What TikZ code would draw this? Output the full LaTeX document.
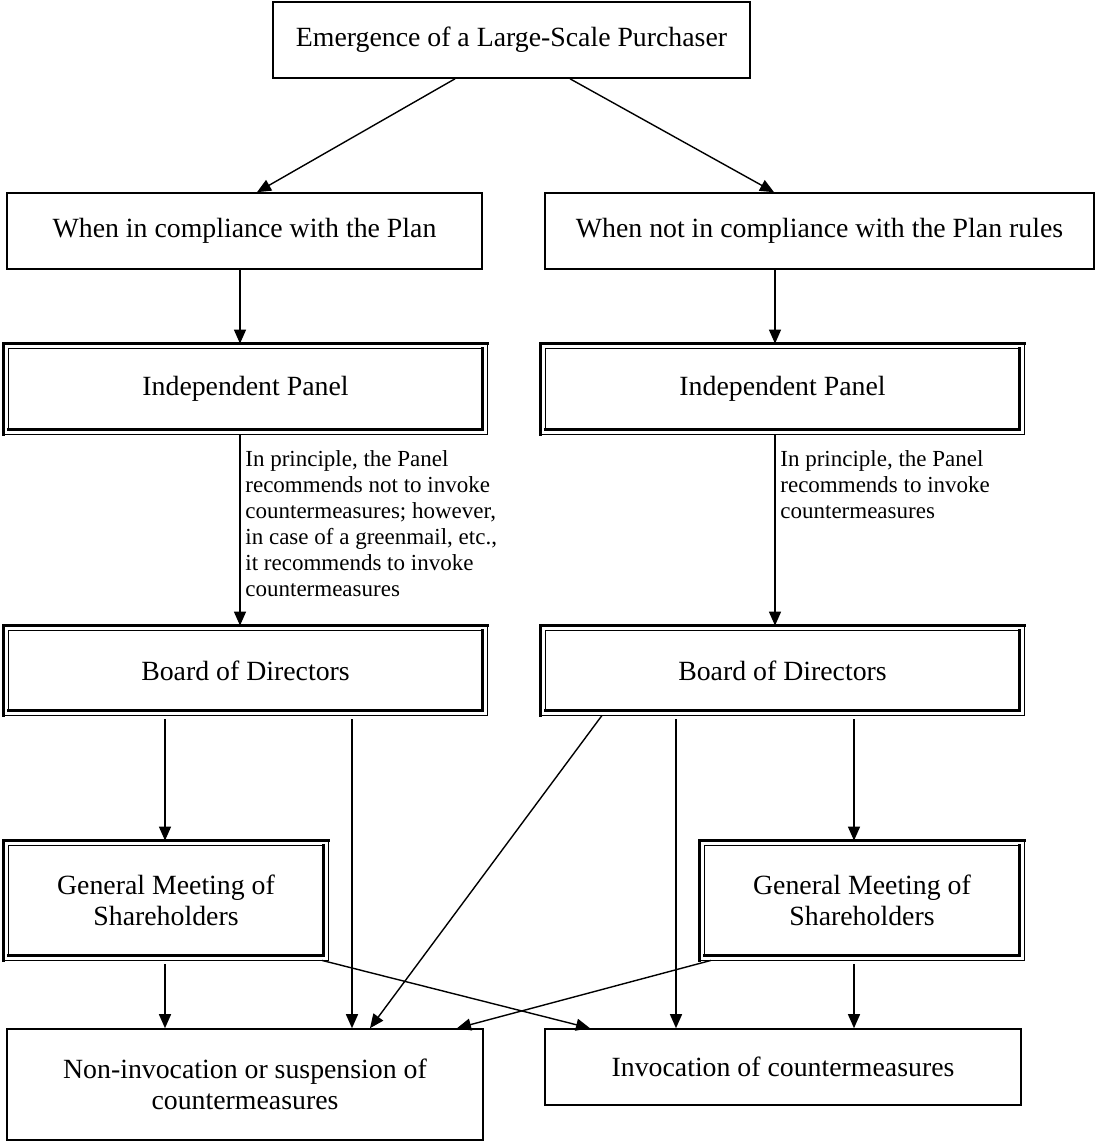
\documentclass[tikz,border=0pt]{standalone}
\usepackage{fontspec}
\setmainfont{Liberation Serif}
\usetikzlibrary{arrows.meta}

\tikzset{
  box/.style={draw, line width=0.8pt, align=center, inner sep=0pt,
    font=\fontsize{13.9}{15.5}\selectfont},
  panel/.style={align=center, inner sep=0pt, font=\fontsize{13.9}{15.5}\selectfont},
  note/.style={align=left, inner sep=0pt, anchor=north west,
    font=\fontsize{11.5}{13}\selectfont},
  arr/.style={-{Triangle[length=7pt,width=6pt]}, line width=0.7pt},
  frame/.style={line width=0.6pt},
  heavy/.style={line width=1.6pt, line cap=rect}
}

\begin{document}
\begin{tikzpicture}[x=0.5pt, y=-0.5pt]
\useasboundingbox (0,0) rectangle (1097,1145);

% top
\node[box, minimum width=238.5pt, minimum height=38pt] (start) at (511.5,40)
    {Emergence of a Large-Scale Purchaser};

% the two cases
\node[box, minimum width=237.5pt, minimum height=38pt] (compL) at (244.5,231)
    {When in compliance with the Plan};
\node[box, minimum width=274.5pt, minimum height=38pt] (compR) at (819.5,231)
    {When not in compliance with the Plan rules};

% framed boxes
\node[panel, minimum width=241.5pt, minimum height=45pt] (panelL) at (245.5,389) {Independent Panel};
\node[panel, minimum width=241.5pt, minimum height=45pt] (panelR) at (782.5,389) {Independent Panel};
\node[panel, minimum width=241.5pt, minimum height=44.5pt] (boardL) at (245.5,670.5) {Board of Directors};
\node[panel, minimum width=241.5pt, minimum height=44.5pt] (boardR) at (782.5,670.5) {Board of Directors};
\node[panel, minimum width=162pt, minimum height=59.5pt] (meetL) at (166,900.5)
    {General Meeting of\\Shareholders};
\node[panel, minimum width=162pt, minimum height=59.5pt] (meetR) at (862,900.5)
    {General Meeting of\\Shareholders};

\foreach \n in {panelL,panelR,boardL,boardR,meetL,meetR}{
  \draw[heavy] (\n.south west) -- (\n.north west) -- (\n.north east);
  \draw[frame] (\n.north east) -- (\n.south east) -- (\n.south west);
  \draw[frame] ([shift={(2.5pt,2.5pt)}]\n.south west) -- ([shift={(2.5pt,-2.5pt)}]\n.north west)
      -- ([shift={(-2.5pt,-2.5pt)}]\n.north east);
  \draw[heavy] ([shift={(-2.5pt,-2.5pt)}]\n.north east) -- ([shift={(-2.5pt,2.5pt)}]\n.south east)
      -- ([shift={(2.5pt,2.5pt)}]\n.south west);
}

% outcomes
\node[box, minimum width=238pt, minimum height=55.5pt] (stopL) at (245,1084.5)
    {Non-invocation or suspension of\\countermeasures};
\node[box, minimum width=238pt, minimum height=38pt] (goR) at (783,1067)
    {Invocation of countermeasures};

% recommendations
\node[note] (lblL) at (245,450) {In principle, the Panel\\recommends not to invoke\\countermeasures; however,\\in case of a greenmail, etc.,\\it recommends to invoke\\countermeasures};
\node[note] (lblR) at (780,450) {In principle, the Panel\\recommends to invoke\\countermeasures};

% arrows
\draw[arr] (start.south -| 455,0) -- (compL.north -| 257,0);
\draw[arr] (start.south -| 570,0) -- (compR.north -| 774,0);
\draw[arr] (compL.south -| 240,0) -- (panelL.north -| 240,0);
\draw[arr] (compR.south -| 775,0) -- (panelR.north -| 775,0);
\draw[arr] (panelL.south -| 240,0) -- (boardL.north -| 240,0);
\draw[arr] (panelR.south -| 775,0) -- (boardR.north -| 775,0);
\draw[arr, shorten <=2pt] (boardL.south -| 165,0) -- (meetL.north -| 165,0);
\draw[arr, shorten <=2pt] (boardL.south -| 352,0) -- (stopL.north -| 352,0);
\draw[arr] (boardR.south -| 602,0) -- (stopL.north -| 370,0);
\draw[arr, shorten <=2pt] (boardR.south -| 676,0) -- (goR.north -| 676,0);
\draw[arr, shorten <=2pt] (boardR.south -| 854,0) -- (meetR.north -| 854,0);
\draw[arr, shorten <=2pt] (meetL.south -| 165,0) -- (stopL.north -| 165,0);
\draw[arr] (meetL.south -| 322,0) -- (goR.north -| 590,0);
\draw[arr] (meetR.south -| 711,0) -- (stopL.north -| 457,0);
\draw[arr, shorten <=2pt] (meetR.south -| 854,0) -- (goR.north -| 854,0);

\end{tikzpicture}
\end{document}
